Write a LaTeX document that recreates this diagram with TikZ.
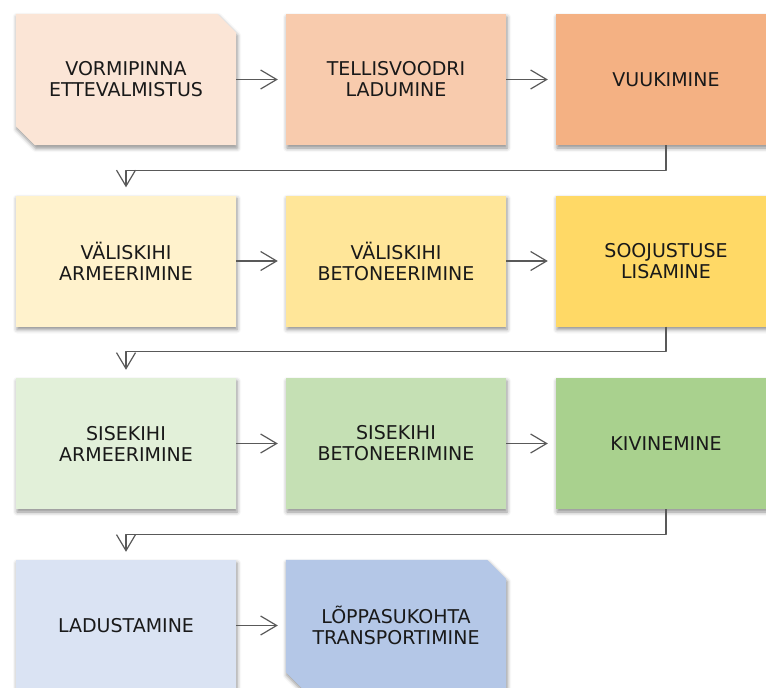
\documentclass[tikz,border=0pt]{standalone}
\usepackage{fontspec}
\setmainfont{DejaVu Sans}
\usetikzlibrary{arrows.meta,shadows.blur,backgrounds}
\definecolor{rowAa}{HTML}{FBE5D6}
\definecolor{rowAb}{HTML}{F8CBAD}
\definecolor{rowAc}{HTML}{F4B183}
\definecolor{rowBa}{HTML}{FFF2CC}
\definecolor{rowBb}{HTML}{FFE699}
\definecolor{rowBc}{HTML}{FFD966}
\definecolor{rowCa}{HTML}{E2F0D9}
\definecolor{rowCb}{HTML}{C5E0B4}
\definecolor{rowCc}{HTML}{A9D18E}
\definecolor{rowDa}{HTML}{DAE3F3}
\definecolor{rowDb}{HTML}{B4C7E7}
\definecolor{linegray}{HTML}{595959}
\begin{document}
\begin{tikzpicture}[x=1pt,y=-1pt,line join=round,
			declare function={cA = 126; cB = 396; cC = 666; rA = 79.5; rB = 261; rC = 443.5; rD = 625.5; snip = 19;},
			boxbase/.style={rectangle,minimum width=220pt,minimum height=131pt,inner sep=0pt,align=center,
				text=black!90,font=\fontsize{19}{21}\selectfont},
			boxshadow/.style={blur shadow={shadow xshift=1pt,shadow yshift=-3pt,shadow blur radius=4pt,shadow opacity=45}},
			stepbox/.style={boxbase,boxshadow},
			snipbox/.style={boxbase},
			flow/.style={draw=linegray,line width=1.2pt,-{Straight Barb[length=16pt,width=19pt,line width=1.2pt]},shorten >=8pt}]
			\useasboundingbox (0,0) rectangle (766,688);
			\clip (0,0) rectangle (766,688);
			%% Rida 1
			\node[snipbox] (vorm) at (cA,rA) {VORMIPINNA\\ETTEVALMISTUS};
			\node[stepbox,fill=rowAb] (tell) at (cB,rA) {TELLISVOODRI\\LADUMINE};
			\node[stepbox,fill=rowAc] (vuuk) at (cC,rA) {VUUKIMINE};
			%% Rida 2
			\node[stepbox,fill=rowBa] (varm) at (cA,rB) {VÄLISKIHI\\ARMEERIMINE};
			\node[stepbox,fill=rowBb] (vbet) at (cB,rB) {VÄLISKIHI\\BETONEERIMINE};
			\node[stepbox,fill=rowBc] (sooj) at (cC,rB) {SOOJUSTUSE\\LISAMINE};
			%% Rida 3
			\node[stepbox,fill=rowCa] (sarm) at (cA,rC) {SISEKIHI\\ARMEERIMINE};
			\node[stepbox,fill=rowCb] (sbet) at (cB,rC) {SISEKIHI\\BETONEERIMINE};
			\node[stepbox,fill=rowCc] (kivi) at (cC,rC) {KIVINEMINE};
			%% Rida 4
			\node[stepbox,fill=rowDa] (ladu) at (cA,rD) {LADUSTAMINE};
			\node[snipbox] (trans) at (cB,rD) {LÕPPASUKOHTA\\TRANSPORTIMINE};
			%% Lõigatud nurkadega kastid
			\begin{scope}[on background layer]
				\fill[rowAa,boxshadow]
					(vorm.north west) -- ([xshift=-snip*1pt]vorm.north east) -- ([yshift=-snip*1pt]vorm.north east)
					-- (vorm.south east) -- ([xshift=snip*1pt]vorm.south west) -- ([yshift=snip*1pt]vorm.south west) -- cycle;
				\fill[rowDb,boxshadow]
					(trans.north west) -- ([xshift=-snip*1pt]trans.north east) -- ([yshift=-snip*1pt]trans.north east)
					-- (trans.south east) -- ([xshift=snip*1pt]trans.south west) -- ([yshift=snip*1pt]trans.south west) -- cycle;
			\end{scope}
			%% Nooled
			\draw[flow] (vorm) -- (tell);
			\draw[flow] (tell) -- (vuuk);
			\draw[flow] (vuuk.south) -- ++(0,25) -| (varm.north);
			\draw[flow] (varm) -- (vbet);
			\draw[flow] (vbet) -- (sooj);
			\draw[flow] (sooj.south) -- ++(0,25) -| (sarm.north);
			\draw[flow] (sarm) -- (sbet);
			\draw[flow] (sbet) -- (kivi);
			\draw[flow] (kivi.south) -- ++(0,25) -| (ladu.north);
			\draw[flow] (ladu) -- (trans);
		\end{tikzpicture}
\end{document}
